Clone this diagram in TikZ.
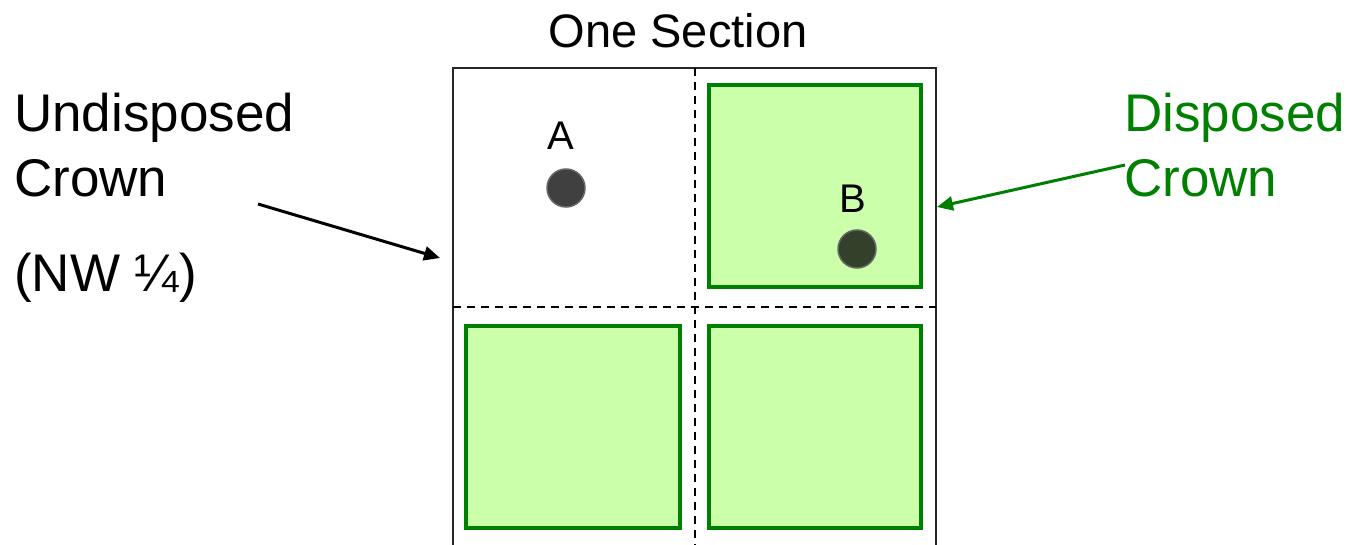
\documentclass[tikz,border=0pt]{standalone}
\usepackage{fontspec}
\setmainfont{Liberation Sans}
\usetikzlibrary{arrows.meta}

\definecolor{crowngreen}{RGB}{0,128,0}
\definecolor{landfill}{RGB}{204,255,170}

\begin{document}
\begin{tikzpicture}[x=1pt,y=-1pt,>=Triangle,
  bigtext/.style={inner sep=0pt,anchor=base west,font=\fontsize{53}{60}\selectfont},
  quarter/.style={draw=crowngreen,fill=landfill,line width=4.5pt,minimum width=212pt,minimum height=202pt,inner sep=0pt},
  spot/.style={circle,fill=black,fill opacity=0.75,draw=black!60,line width=1.5pt,minimum size=38pt,inner sep=0pt},
  divider/.style={dashed,line width=2pt,dash pattern=on 8pt off 6pt}]
  \useasboundingbox (0,0) rectangle (1349,545);
  \clip (0,0) rectangle (1349,545);

  % section outline and quarter lines
  \draw[line width=2.2pt,black!85] (453,560) -- (453,68) -- (936,68) -- (936,560);
  \draw[divider] (695,68) -- (695,560);
  \draw[divider] (453,307) -- (936,307);

  % disposed quarters
  \node[quarter] (ne) at (815,186) {};
  \node[quarter,minimum width=214pt] (sw) at (573,427) {};
  \node[quarter] (se) at (815,427) {};

  % points
  \node[spot] (ptA) at (566,188) {};
  \node[spot] (ptB) at (857,249) {};
  \node[inner sep=0pt,anchor=base,font=\fontsize{40}{44}\selectfont] (labA) at (561,150) {A};
  \node[inner sep=0pt,anchor=base,font=\fontsize{40}{44}\selectfont] (labB) at (853,213) {B};

  % titles
  \node[inner sep=0pt,anchor=base,font=\fontsize{47}{52}\selectfont] (title) at (678,48) {One Section};
  \node[bigtext] (undisp) at (14,132) {Undisposed};
  \node[bigtext] (ucrown) at (14,197) {Crown};
  \node[bigtext] (nwq) at (14,292) {(NW ¼)};
  \node[bigtext,text=crowngreen] (disp) at (1124,132) {Disposed};
  \node[bigtext,text=crowngreen] (dcrown) at (1124,197) {Crown};

  % arrows
  \coordinate (utail) at (258,204);
  \coordinate (uhead) at (440,258);
  \coordinate (dtail) at (1125,165);
  \coordinate (dhead) at (937,207);
  \draw[-{Triangle[length=16pt,width=14pt]},line width=3pt] (utail) -- (uhead);
  \draw[-{Triangle[length=16pt,width=14pt]},line width=3pt,crowngreen] (dtail) -- (dhead);
\end{tikzpicture}
\end{document}
